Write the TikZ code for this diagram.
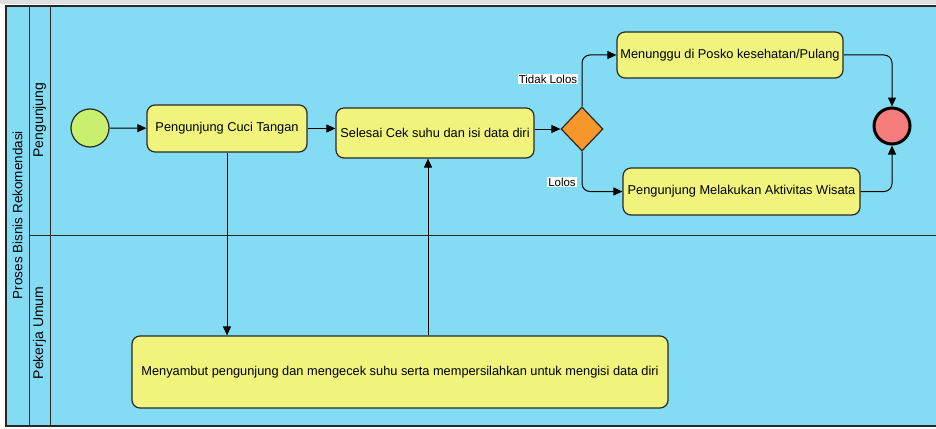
\documentclass[tikz,border=0pt]{standalone}
\usepackage{fontspec}
\setmainfont{Liberation Sans}
\usetikzlibrary{arrows.meta,shapes.geometric}

\definecolor{poolblue}{RGB}{132,220,244}
\definecolor{taskyellow}{RGB}{240,244,124}
\definecolor{startgreen}{RGB}{200,240,110}
\definecolor{endred}{RGB}{244,124,124}
\definecolor{gateorange}{RGB}{247,150,43}
\definecolor{edgegray}{RGB}{40,40,40}

\tikzset{
    task/.style={draw=edgegray, fill=taskyellow, rounded corners=8pt, line width=1.2pt,
        inner sep=0pt, font=\fontsize{12.8}{15}\selectfont},
    lanelabel/.style={rotate=90, font=\fontsize{14}{16}\selectfont},
    flow/.style={-{Triangle[length=9pt,width=8pt]}, line width=1pt, rounded corners=8pt},
    guard/.style={fill=white, inner sep=1pt, font=\fontsize{11.5}{13}\selectfont}
}

\begin{document}
\begin{tikzpicture}[x=1pt, y=-1pt]
    \useasboundingbox (0,0) rectangle (936,428);
    % pool and lanes
    \fill[gray!25] (0,0) rectangle (936,4);
    \draw[fill=poolblue, line width=1.2pt, draw=edgegray] (6,6) rectangle (945,426);
    \draw[line width=1pt, draw=edgegray] (29,6) -- (29,426);
    \draw[line width=1pt, draw=edgegray] (50,6) -- (50,426);
    \draw[line width=1pt, draw=edgegray] (29,235) -- (945,235);
    \node[lanelabel, font=\fontsize{13.5}{16}\selectfont] (pool) at (17.5,215) {Proses Bisnis Rekomendasi};
    \node[lanelabel] (lanevisitor) at (39.5,120) {Pengunjung};
    \node[lanelabel] (laneworker) at (39.5,333) {Pekerja Umum};

    % events and gateway
    \node[circle, draw=edgegray, fill=startgreen, line width=1.2pt, minimum size=38pt] (start) at (90,128) {};
    \node[circle, draw=black, fill=endred, line width=3pt, minimum size=36pt] (finish) at (892,126) {};
    \node[diamond, draw=edgegray, fill=gateorange, line width=1.2pt, inner sep=0pt,
        minimum width=42pt, minimum height=44pt] (check) at (582,129) {};

    % tasks
    \node[task, minimum width=160pt, minimum height=47pt] (wash) at (227,128.5) {Pengunjung Cuci Tangan};
    \node[task, minimum width=198pt, minimum height=50pt] (done) at (435,133) {Selesai Cek suhu dan isi data diri};
    \node[task, minimum width=226pt, minimum height=46pt] (wait) at (730,55) {Menunggu di Posko kesehatan/Pulang};
    \node[task, minimum width=237pt, minimum height=47pt] (visit) at (741.5,191.5) {Pengunjung Melakukan Aktivitas Wisata};
    \node[task, minimum width=536pt, minimum height=72pt] (greet) at (400,372) {Menyambut pengunjung dan mengecek suhu serta mempersilahkan untuk mengisi data diri};

    % flows
    \draw[flow] (start) -- (wash);
    \draw[flow] (wash.east) -- (done.west |- wash.east);
    \draw[flow] (done.east |- check) -- (check);
    \draw[flow] (wash.south) -- (greet.north -| wash.south);
    \draw[flow] (greet.north -| 428,0) -- (done.south -| 428,0);
    \draw[flow] (check.north) |- (wait.west);
    \draw[flow] (check.south) |- (visit.west);
    \draw[flow] (wait.east) -| (finish.north);
    \draw[flow] (visit.east) -| (finish.south);
    \node[guard] (notpass) at (548,79) {Tidak Lolos};
    \node[guard] (pass) at (562,182) {Lolos};
\end{tikzpicture}
\end{document}
